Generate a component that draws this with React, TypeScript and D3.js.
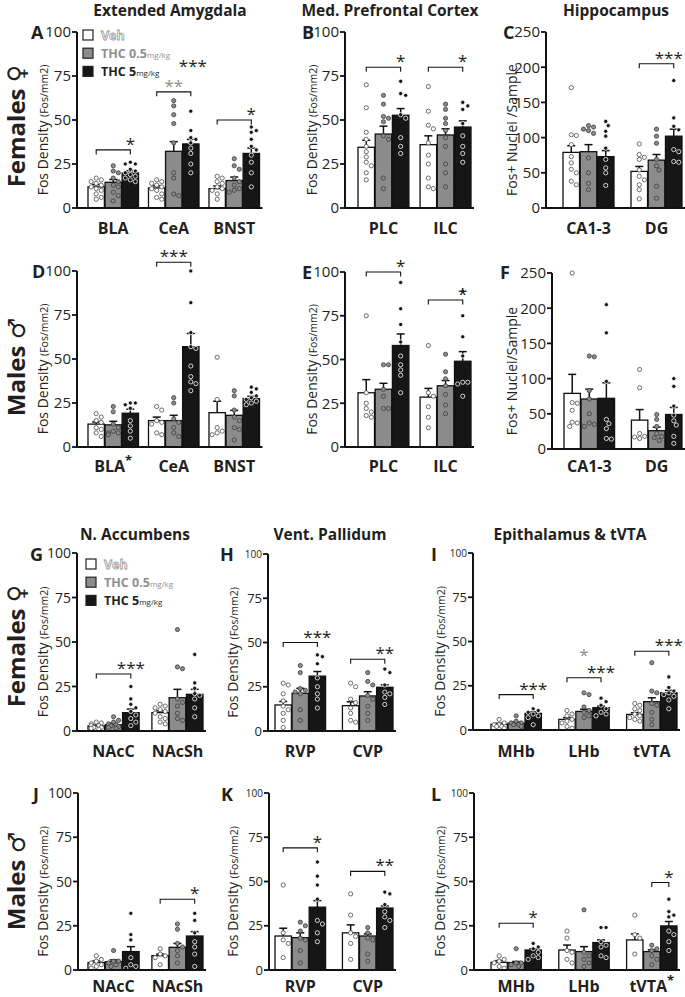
import React from 'react';
import * as d3 from 'd3';

const FONT = "'Open Sans', 'DejaVu Sans', sans-serif";
const INK = '#231f20';
const GRAY = '#8c8c8c';
const GRAY_TEXT = '#8f8f8f';

const treatments = ['Veh', 'THC 0.5', 'THC 5'];
const fosTicks = [0, 25, 50, 75, 100];
const nucleiTicks = [0, 50, 100, 150, 200, 250];

// ---- A: females, extended amygdala
const groupsA = ['BLA', 'CeA', 'BNST'];
const meanA = [[12, 14.6, 19.9], [11.4, 32.2, 36.4], [11, 15.6, 31]];
const semA = [[1.3, 1.6, 1.3], [1.2, 5.5, 2.6], [1.5, 2, 3]];
const ptsA = [
  [[17, 16, 15, 14, 13, 12, 11, 10, 8, 6, 5], [24, 21, 20, 17, 15, 13, 12, 9, 7, 4], [26, 25, 25, 22, 21, 20, 19, 18, 17, 16, 15]],
  [[16, 15, 14, 13, 12, 11, 10, 8, 6, 5], [61, 58, 53, 48, 37, 20, 17, 8, 7], [55, 44, 40, 39, 37, 34, 31, 25, 20]],
  [[18, 17, 15, 14, 12, 11, 10, 8, 5], [28, 24, 22, 17, 15, 13, 11, 10, 9], [46, 44, 43, 39, 35, 33, 30, 26, 20, 12]],
];
const sigA: Sig[] = [
  { g: 0, from: 0, to: 2, y: 33, text: '*', at: 2 },
  { g: 1, from: 0, to: 2, y: 66, text: '**', at: 1, color: GRAY_TEXT },
  { g: 1, from: 2, to: 2, y: 77, text: '***', at: 2, dx: 2 },
  { g: 2, from: 0, to: 2, y: 50, text: '*', at: 2 },
];

// ---- B: females, mPFC
const groupsB = ['PLC', 'ILC'];
const meanB = [[34.5, 42, 52.7], [36, 41.5, 46]];
const semB = [[4, 4.5, 3.8], [5, 3.5, 3.5]];
const ptsB = [
  [[70, 57, 43, 39, 35, 32, 29, 26, 24, 20, 16], [64, 59, 52, 51, 49, 41, 39, 17, 11], [72, 65, 64, 53, 51, 40, 35, 31]],
  [[69, 55, 47, 45, 37, 30, 25, 17, 12, 11], [59, 56, 51, 48, 44, 40, 35, 25, 20, 12], [60, 58, 56, 48, 41, 35, 31, 26]],
];
const sigB: Sig[] = [
  { g: 0, from: 0, to: 2, y: 80, text: '*', at: 2 },
  { g: 1, from: 0, to: 2, y: 80, text: '*', at: 2 },
];

// ---- C: females, hippocampus
const groupsC = ['CA1-3', 'DG'];
const meanC = [[79, 80, 73], [52, 68, 102]];
const semC = [[9.5, 10, 8.5], [7, 8, 10]];
const ptsC = [
  [[171, 104, 103, 90, 73, 64, 55, 50, 38, 33], [117, 115, 112, 110, 106, 71, 50, 35, 26], [123, 117, 109, 102, 85, 69, 57, 50, 32]],
  [[91, 76, 72, 69, 54, 45, 40, 33, 26, 13], [112, 102, 92, 69, 60, 54, 31, 14], [181, 128, 116, 111, 83, 80, 66, 65]],
];
const sigC: Sig[] = [{ g: 1, from: 0, to: 2, y: 205, text: '***', at: 2, dx: -5 }];

// ---- D: males, extended amygdala
const groupsD = ['BLA*', 'CeA', 'BNST'];
const meanD = [[13, 12.6, 19.2], [15, 15, 57], [19.5, 18, 27.5]];
const semD = [[1.2, 2, 2.3], [2, 3, 7.5], [6.5, 2.8, 1.3]];
const ptsD = [
  [[19, 17, 15, 14, 11, 10, 8, 6], [23, 20, 13, 11, 9, 8, 8, 7], [25, 25, 24, 22, 15, 12, 9, 5]],
  [[23, 21, 15, 14, 13, 8, 7], [28, 25, 16, 14, 11, 8, 6], [100, 82, 65, 57, 56, 46, 40, 37, 36, 32]],
  [[51, 27, 11, 9, 8, 7], [32, 29, 21, 17, 15, 11, 10, 4], [34, 33, 31, 29, 28, 27, 26, 25, 24]],
];
const sigD: Sig[] = [{ g: 1, from: 0, to: 2, y: 105, text: '***', at: 1 }];

// ---- E: males, mPFC
const groupsE = ['PLC', 'ILC'];
const meanE = [[31, 33, 58], [28.5, 35, 49]];
const semE = [[7.5, 3.4, 6.6], [5, 3, 5.5]];
const ptsE = [
  [[75, 31, 25, 22, 20, 18, 17], [47, 47, 33, 29, 22, 22], [94, 79, 70, 60, 52, 47, 44, 41, 31]],
  [[58, 31, 29, 23, 17, 11], [53, 43, 39, 35, 30, 24, 19], [89, 75, 63, 52, 37, 37, 36, 29]],
];
const sigE: Sig[] = [
  { g: 0, from: 0, to: 2, y: 100, text: '*', at: 2 },
  { g: 1, from: 0, to: 2, y: 84, text: '*', at: 2 },
];

// ---- F: males, hippocampus
const groupsF = ['CA1-3', 'DG'];
const meanF = [[79, 71, 72], [41, 26, 49]];
const semF = [[27, 14, 22], [15, 5, 10]];
const ptsF = [
  [[250, 66, 65, 55, 38, 37, 32], [132, 131, 83, 71, 50, 37, 35, 32], [205, 165, 96, 42, 36, 29, 15, 14]],
  [[113, 87, 22, 18, 17, 15], [49, 42, 32, 22, 18, 16, 12], [100, 89, 61, 48, 40, 34, 18, 8]],
];
const sigF: Sig[] = [];

// ---- G: females, nucleus accumbens
const groupsG = ['NAcC', 'NAcSh'];
const meanG = [[2.8, 3.5, 10.3], [10.3, 18.7, 20.6]];
const semG = [[0.5, 0.8, 2], [1, 4.7, 2.8]];
const ptsG = [
  [[5, 4.5, 4, 3, 3, 2, 2, 1.5, 1], [8, 6, 5, 4, 3.5, 3, 2.5, 2, 1.5], [25, 18, 15, 13, 11, 9, 7, 5, 3]],
  [[15, 14, 13, 12, 11, 10, 8, 7, 5, 4], [57, 36, 35, 18, 16, 14, 10, 7, 6], [43, 27, 24, 21, 20, 18, 13, 8]],
];
const sigG: Sig[] = [{ g: 0, from: 0, to: 2, y: 32, text: '***', at: 2 }];

// ---- H: females, ventral pallidum
const groupsH = ['RVP', 'CVP'];
const meanH = [[14.7, 21.3, 31], [14.3, 19.8, 24.7]];
const semH = [[2, 2.8, 2.6], [2.2, 2.4, 1.4]];
const ptsH = [
  [[27, 26, 21, 17, 14, 12, 10, 6, 2], [37, 33, 24, 23, 22, 21, 12, 6], [43, 42, 38, 30, 25, 21, 18, 13]],
  [[27, 25, 18, 16, 13, 10, 6, 5], [33, 28, 26, 20, 18, 14, 10, 6], [35, 33, 26, 22, 21, 19, 15]],
];
const sigH: Sig[] = [
  { g: 0, from: 0, to: 2, y: 50, text: '***', at: 2 },
  { g: 1, from: 0, to: 2, y: 40.5, text: '**', at: 2 },
];

// ---- I: females, epithalamus & tVTA
const groupsI = ['MHb', 'LHb', 'tVTA'];
const meanI = [[3.2, 3.8, 9.4], [6, 10.5, 12.6], [8.8, 16, 21]];
const semI = [[0.6, 0.7, 0.8], [1, 1.2, 0.9], [1, 2.2, 1.4]];
const ptsI = [
  [[6, 4, 3, 3, 2, 2, 1], [8, 5, 4, 4, 3, 3, 2], [12, 11, 10, 9, 8, 7, 3]],
  [[11, 9, 8, 6, 5, 4, 2, 1], [21, 20, 13, 11, 10, 8, 7], [18, 16, 14, 12, 10, 9, 8]],
  [[15, 14, 12, 11, 9, 8, 7, 6, 5], [38, 22, 21, 15, 14, 10, 6, 3], [30, 24, 22, 21, 20, 19, 17, 12]],
];
const sigI: Sig[] = [
  { g: 0, from: 0, to: 2, y: 20, text: '***', at: 2 },
  { g: 1, from: 0, to: 2, y: 29.5, text: '***', at: 2 },
  { g: 1, from: 1, to: 1, y: 39, text: '*', at: 1, color: GRAY_TEXT },
  { g: 2, from: 0, to: 2, y: 44.5, text: '***', at: 2 },
];

// ---- J: males, nucleus accumbens
const groupsJ = ['NAcC', 'NAcSh'];
const meanJ = [[4.2, 4.7, 10.4], [8.1, 12.8, 19.2]];
const semJ = [[0.9, 1, 2.8], [0.9, 2.2, 2.5]];
const ptsJ = [
  [[8, 6, 5, 4, 3, 2, 1], [11, 5, 5, 4, 3, 2], [32, 20, 17, 7, 3, 2, 1]],
  [[12, 9, 8, 7, 3], [26, 23, 15, 13, 11, 8, 4], [32, 28, 21, 16, 13, 9, 2]],
];
const sigJ: Sig[] = [{ g: 1, from: 0, to: 2, y: 40, text: '*', at: 2 }];

// ---- K: males, ventral pallidum
const groupsK = ['RVP', 'CVP'];
const meanK = [[19.2, 18.3, 35.5], [21, 19.2, 35]];
const semK = [[4.4, 2.7, 3.7], [4.5, 1.2, 1.2]];
const ptsK = [
  [[48, 21, 17, 15, 7], [27, 25, 22, 18, 17, 11, 4], [61, 53, 48, 40, 28, 26, 21, 16]],
  [[43, 31, 21, 19, 15, 6], [24, 21, 18, 17, 9, 5], [44, 43, 37, 33, 30, 28, 24]],
];
const sigK: Sig[] = [
  { g: 0, from: 0, to: 2, y: 69, text: '*', at: 2 },
  { g: 1, from: 0, to: 2, y: 55.7, text: '**', at: 2 },
];

// ---- L: males, epithalamus & tVTA
const groupsL = ['MHb', 'LHb', 'tVTA*'];
const meanL = [[4.3, 4.2, 11.3], [11.3, 10.4, 15.5], [17, 10.4, 24.9]];
const semL = [[1, 0.6, 0.7], [2.8, 2.8, 1.5], [3.4, 1, 2.5]];
const ptsL = [
  [[8, 6, 5, 4, 2, 1], [12, 4, 4, 3, 2], [15, 13, 12, 10, 8, 7, 6]],
  [[22, 18, 11, 10, 6, 4], [34, 10, 8, 6, 4, 2], [24, 24, 16, 14, 13, 8, 7]],
  [[31, 20, 18, 9], [14, 12, 11, 8, 6, 3], [40, 33, 31, 30, 22, 20, 16, 11]],
];
const sigL: Sig[] = [
  { g: 0, from: 0, to: 2, y: 26.4, text: '*', at: 2 },
  { g: 2, from: 1, to: 2, y: 49.4, text: '*', at: 2 },
];

const titles = [
  { text: 'Extended Amygdala', x: 170, y: 16 },
  { text: 'Med. Prefrontal Cortex', x: 390, y: 16 },
  { text: 'Hippocampus', x: 616, y: 16 },
  { text: 'N. Accumbens', x: 135, y: 540 },
  { text: 'Vent. Pallidum', x: 330, y: 540 },
  { text: 'Epithalamus & tVTA', x: 570, y: 540 },
];

const sexLabels = [
  { text: 'Females \u2640', y: 126 },
  { text: 'Males \u2642', y: 367 },
  { text: 'Females \u2640', y: 646 },
  { text: 'Males \u2642', y: 881 },
];

type Sig = { g: number; from: number; to: number; y: number; text: string; at: number; color?: string; dx?: number };

type PanelDef = {
  letter: string; groups: string[]; mean: number[][]; sem: number[][]; pts: number[][][]; sig: Sig[];
  ticks: number[]; ylabel: string[];
  ax: number; top: number; bottom: number; x0: number; x1: number; pad: number;
  labelX: number; letterX: number; letterY: number; catY: number; tickFont: number; small100?: boolean;
  legend?: { x: number; y: number };
};

const FOS = ['Fos Density ', '(Fos/mm2)'];

const panels: PanelDef[] = [
  { letter: 'A', groups: groupsA, mean: meanA, sem: semA, pts: ptsA, sig: sigA, ticks: fosTicks, ylabel: FOS,
    ax: 77, top: 32, bottom: 208, x0: 88, x1: 259.5, pad: 0.165, labelX: 43, letterX: 31, letterY: 39, catY: 234, tickFont: 15,
    legend: { x: 83, y: 35 } },
  { letter: 'B', groups: groupsB, mean: meanB, sem: semB, pts: ptsB, sig: sigB, ticks: fosTicks, ylabel: FOS,
    ax: 345, top: 32, bottom: 208, x0: 358, x1: 471, pad: 0.18, labelX: 312, letterX: 302, letterY: 39, catY: 234, tickFont: 15 },
  { letter: 'C', groups: groupsC, mean: meanC, sem: semC, pts: ptsC, sig: sigC, ticks: nucleiTicks, ylabel: ['Fos+ Nuclei /Sample'],
    ax: 546, top: 32, bottom: 208, x0: 563, x1: 682, pad: 0.25, labelX: 512, letterX: 503, letterY: 39, catY: 234, tickFont: 15 },
  { letter: 'D', groups: groupsD, mean: meanD, sem: semD, pts: ptsD, sig: sigD, ticks: fosTicks, ylabel: FOS,
    ax: 77, top: 271, bottom: 447, x0: 88, x1: 259.5, pad: 0.165, labelX: 43, letterX: 32, letterY: 278, catY: 472, tickFont: 15 },
  { letter: 'E', groups: groupsE, mean: meanE, sem: semE, pts: ptsE, sig: sigE, ticks: fosTicks, ylabel: FOS,
    ax: 345, top: 272, bottom: 447, x0: 358, x1: 471, pad: 0.18, labelX: 312, letterX: 302, letterY: 279, catY: 472, tickFont: 15 },
  { letter: 'F', groups: groupsF, mean: meanF, sem: semF, pts: ptsF, sig: sigF, ticks: nucleiTicks, ylabel: ['Fos+ Nuclei/Sample'],
    ax: 552, top: 273, bottom: 449, x0: 564, x1: 682, pad: 0.25, labelX: 512, letterX: 500, letterY: 279, catY: 472, tickFont: 15 },
  { letter: 'G', groups: groupsG, mean: meanG, sem: semG, pts: ptsG, sig: sigG, ticks: fosTicks, ylabel: FOS,
    ax: 77, top: 553, bottom: 731, x0: 88, x1: 203, pad: 0.2, labelX: 43, letterX: 30, letterY: 561, catY: 757, tickFont: 14,
    legend: { x: 86, y: 564 } },
  { letter: 'H', groups: groupsH, mean: meanH, sem: semH, pts: ptsH, sig: sigH, ticks: fosTicks, ylabel: FOS,
    ax: 268, top: 554, bottom: 731, x0: 275, x1: 393, pad: 0.25, labelX: 233, letterX: 220, letterY: 561, catY: 757, tickFont: 13, small100: true },
  { letter: 'I', groups: groupsI, mean: meanI, sem: semI, pts: ptsI, sig: sigI, ticks: fosTicks, ylabel: FOS,
    ax: 473, top: 553, bottom: 730, x0: 491, x1: 677, pad: 0.257, labelX: 440, letterX: 431, letterY: 561, catY: 757, tickFont: 13, small100: true },
  { letter: 'J', groups: groupsJ, mean: meanJ, sem: semJ, pts: ptsJ, sig: sigJ, ticks: fosTicks, ylabel: FOS,
    ax: 78, top: 793, bottom: 970, x0: 88, x1: 203, pad: 0.2, labelX: 43, letterX: 33, letterY: 801, catY: 992, tickFont: 14 },
  { letter: 'K', groups: groupsK, mean: meanK, sem: semK, pts: ptsK, sig: sigK, ticks: fosTicks, ylabel: FOS,
    ax: 269, top: 793, bottom: 970, x0: 275, x1: 393, pad: 0.25, labelX: 233, letterX: 221, letterY: 801, catY: 992, tickFont: 13, small100: true },
  { letter: 'L', groups: groupsL, mean: meanL, sem: semL, pts: ptsL, sig: sigL, ticks: fosTicks, ylabel: FOS,
    ax: 474, top: 793, bottom: 970, x0: 491, x1: 677, pad: 0.257, labelX: 440, letterX: 431, letterY: 801, catY: 992, tickFont: 13, small100: true },
];

const barFill = ['#ffffff', GRAY, '#161616'];
const dotFill = ['#ffffff', GRAY, '#161616'];
const dotStroke = ['#4a4a4a', '#3a3a3a', '#ffffff'];

// simple beeswarm: spread points sideways within the bar so they don't overlap
function swarm(vals: number[], y: (v: number) => number, half: number, r: number) {
  const order = vals.map((_, i) => i).sort((a, b) => vals[b] - vals[a]);
  const placed: { x: number; y: number }[] = [];
  const out: number[] = new Array(vals.length).fill(0);
  const step = r * 1.2;
  const cands = [0];
  for (let k = 1; k * step <= half; k++) cands.push(k * step, -k * step);
  order.forEach((i, n) => {
    const py = y(vals[i]);
    let pick = cands[(n % (cands.length - 1)) + 1] ?? 0;
    for (const c of cands) {
      if (placed.every(p => (p.x - c) ** 2 + (p.y - py) ** 2 >= (2 * r + 0.3) ** 2)) { pick = c; break; }
    }
    placed.push({ x: pick, y: py });
    out[i] = pick;
  });
  return out;
}

function CatLabel({ x, y, name }: { x: number; y: number; name: string }) {
  const star = name.endsWith('*');
  const base = star ? name.slice(0, -1) : name;
  return (
    <text x={x} y={y} textAnchor="middle" fontSize={16} fontWeight={700} fill={INK}>
      {base}
      {star && <tspan fontSize={13} dy={-7}>*</tspan>}
    </text>
  );
}

function Legend({ x, y }: { x: number; y: number }) {
  const rows = [
    { fill: '#fff', main: 'Veh', sub: '', tf: '#fff', ts: '#9a9a9a' },
    { fill: GRAY, main: 'THC 0.5', sub: 'mg/kg', tf: GRAY_TEXT, ts: 'none' },
    { fill: '#161616', main: 'THC 5', sub: 'mg/kg', tf: INK, ts: 'none' },
  ];
  return (
    <g>
      {rows.map((r, i) => (
        <g key={i} transform={`translate(${x},${y + i * 18.2})`}>
          <rect x={0} y={-5} width={10} height={10} fill={r.fill} stroke="#222" strokeWidth={1.2} />
          <text x={18} y={4.5} fontSize={12.5} fontWeight={700} fill={r.tf} stroke={r.ts} strokeWidth={0.8}>
            {r.main}
            {r.sub && <tspan fontSize={8} fontWeight={400}>{r.sub}</tspan>}
          </text>
        </g>
      ))}
    </g>
  );
}

function Panel({ p }: { p: PanelDef }) {
  const ymax = p.ticks[p.ticks.length - 1];
  const y = d3.scaleLinear().domain([0, ymax]).range([p.bottom, p.top]);
  const xg = d3.scaleBand<string>().domain(p.groups).range([p.x0, p.x1]).paddingInner(p.pad);
  const xb = d3.scaleBand<string>().domain(treatments).range([0, xg.bandwidth()]).paddingInner(0.04);
  const bw = xb.bandwidth();
  const r = 2.1;
  const barX = (g: number, b: number) => (xg(p.groups[g]) ?? 0) + (xb(treatments[b]) ?? 0);
  const barC = (g: number, b: number) => barX(g, b) + bw / 2;
  const midY = (p.top + p.bottom) / 2 + 10;

  return (
    <g fontFamily={FONT}>
      {/* panel letter */}
      <text x={p.letterX} y={p.letterY} fontSize={18} fontWeight={700} fill={INK}>{p.letter}</text>

      {/* y label */}
      <text transform={`translate(${p.labelX + 5},${midY}) rotate(-90)`} textAnchor="middle" fill={INK} fontSize={14}>
        {p.ylabel[0]}
        {p.ylabel[1] && <tspan fontSize={10.5}>{p.ylabel[1]}</tspan>}
      </text>

      {/* bars, error bars */}
      {p.groups.map((gname, g) => (
        <g key={gname}>
          {treatments.map((t, b) => {
            const m = p.mean[g][b];
            const s = p.sem[g][b];
            const cx = barC(g, b);
            return (
              <g key={t}>
                <line x1={cx} x2={cx} y1={y(m)} y2={y(m + s)} stroke="#111" strokeWidth={1.5} />
                <line x1={cx - 4} x2={cx + 4} y1={y(m + s)} y2={y(m + s)} stroke="#111" strokeWidth={1.5} />
                <rect x={barX(g, b)} y={y(m)} width={bw} height={y(0) - y(m)} fill={barFill[b]} stroke="#111" strokeWidth={1.3} />
              </g>
            );
          })}
          {treatments.map((t, b) => {
            const vals = p.pts[g][b];
            const offs = swarm(vals, y, bw / 2 - r - 1, r);
            const cx = barC(g, b);
            return (
              <g key={'p' + t}>
                {vals.map((v, i) => (
                  <circle key={i} cx={cx + offs[i]} cy={y(v)} r={r} fill={dotFill[b]} stroke={dotStroke[b]} strokeWidth={0.8} />
                ))}
              </g>
            );
          })}
          <CatLabel x={(xg(gname) ?? 0) + xg.bandwidth() / 2} y={p.catY} name={gname} />
        </g>
      ))}

      {/* axes */}
      <line x1={p.ax} x2={p.ax} y1={p.top} y2={p.bottom} stroke="#111" strokeWidth={2} />
      <line x1={p.ax} x2={p.x1 + 3} y1={p.bottom} y2={p.bottom} stroke="#111" strokeWidth={2} />
      {p.ticks.map(t => (
        <g key={t}>
          <line x1={p.ax - 5} x2={p.ax} y1={y(t)} y2={y(t)} stroke="#111" strokeWidth={1.8} />
          <text x={p.ax - 6} y={y(t)} dy="0.36em" textAnchor="end" fill={INK}
            fontSize={p.small100 && t === 100 ? 10 : p.tickFont}>{t}</text>
        </g>
      ))}

      {/* significance */}
      {p.sig.map((s, i) => {
        const yy = y(s.y);
        const xa = barC(s.g, s.from);
        const xc = barC(s.g, s.to);
        return (
          <g key={'s' + i}>
            {s.from !== s.to && (
              <path d={`M${xa},${yy + 4.5}V${yy}H${xc}V${yy + 4.5}`} fill="none" stroke="#111" strokeWidth={1.1} />
            )}
            <text x={barC(s.g, s.at) + (s.dx ?? 0)} y={yy} textAnchor="middle" fontSize={17} fill={s.color ?? INK}>{s.text}</text>
          </g>
        );
      })}

      {p.legend && <Legend x={p.legend.x} y={p.legend.y} />}
    </g>
  );
}

const App: React.FC = () => {
  return (
    <svg width={685} height={997} style={{ position: 'absolute', left: 0, top: 0, background: '#fff' }}>
      <rect width={685} height={997} fill="#fff" />
      {titles.map(t => (
        <text key={t.text + t.y} x={t.x} y={t.y} textAnchor="middle" fontFamily={FONT} fontSize={15.5} fontWeight={700} fill={INK}>{t.text}</text>
      ))}
      {sexLabels.map((s, i) => (
        <text key={i} transform={`translate(25,${s.y}) rotate(-90)`} textAnchor="middle" fontFamily={FONT}
          fontSize={24} fontWeight={700} fill={INK}>{s.text}</text>
      ))}
      {panels.map(p => <Panel key={p.letter} p={p} />)}
    </svg>
  );
};

export default App;
